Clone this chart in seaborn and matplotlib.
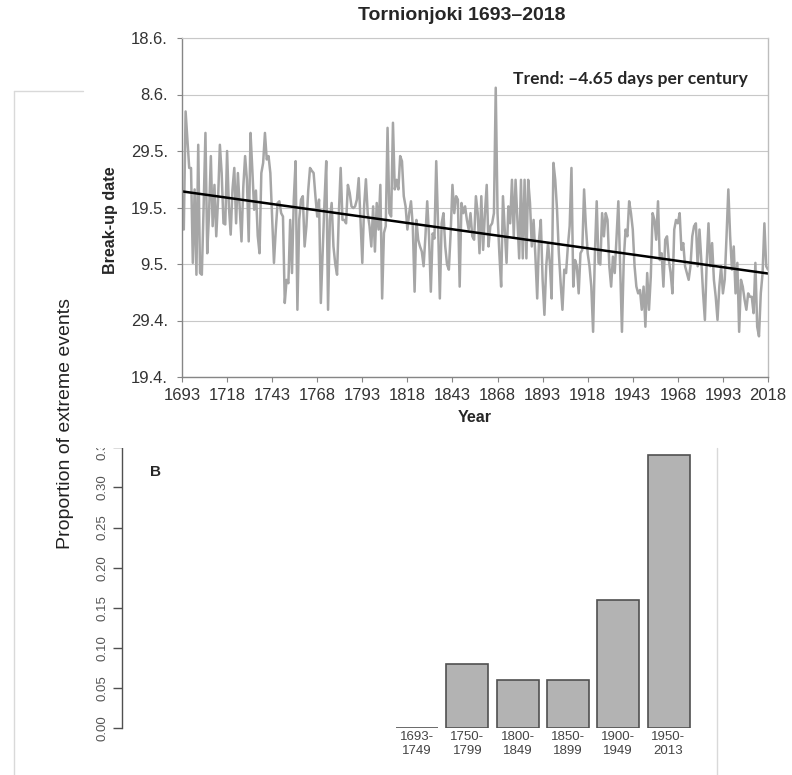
import numpy as np
import pandas as pd
import matplotlib
matplotlib.use("Agg")
import matplotlib.pyplot as plt
from matplotlib.patches import Rectangle
from matplotlib.lines import Line2D
import seaborn as sns

# ---------------- data ----------------
# Panel A: ice break-up date of the Tornionjoki, expressed as days after 19 April
YEARS = list(range(1693, 2019))
BREAKUP_DAYS = [
    # 1693-1736
    31.1, 26.1, 47.0, 42.0, 37.0, 37.0, 20.2, 33.2, 18.1, 41.1,
    18.4, 18.1, 30.2, 43.2, 21.9, 29.0, 39.1, 26.7, 34.0, 24.9,
    31.4, 41.1, 36.1, 27.2, 27.0, 40.0, 30.2, 25.2, 33.2, 37.0,
    27.2, 36.1, 30.2, 24.0, 33.7, 39.1, 34.9, 24.0, 43.2, 36.7,
    29.6, 33.0, 25.0, 21.9,
    # 1737-1794
    36.1, 37.9, 43.2, 38.5, 39.1, 36.1, 28.0, 20.2, 26.0, 30.8,
    31.1, 29.0, 28.4, 13.1, 17.2, 16.6, 27.8, 18.4, 31.4, 38.2,
    11.9, 27.8, 31.4, 32.0, 23.1, 26.7, 33.0, 37.0, 36.5, 36.1,
    32.0, 28.4, 31.4, 13.1, 22.0, 30.8, 38.2, 11.9, 27.8, 30.8,
    23.1, 20.0, 18.1, 29.0, 37.0, 27.8, 27.8, 27.2, 34.0, 32.6,
    30.2, 29.9, 30.2, 31.4, 35.2, 27.8, 20.2, 30.2,
    # 1795-1852
    35.0, 29.0, 26.7, 23.1, 30.2, 22.2, 30.8, 26.1, 34.0, 13.9,
    25.5, 26.7, 44.1, 29.0, 28.4, 45.0, 33.2, 34.9, 33.2, 39.1,
    38.2, 32.0, 30.2, 26.1, 29.0, 31.1, 26.7, 15.1, 27.8, 24.3,
    23.1, 22.2, 19.6, 24.9, 31.1, 24.9, 15.1, 25.4, 24.5, 38.2,
    27.2, 13.9, 27.2, 29.0, 23.1, 19.9, 19.0, 25.5, 34.0, 29.0,
    32.0, 31.4, 16.0, 30.8, 29.0, 30.2, 27.8, 26.1,
    # 1853-1911
    29.0, 24.9, 24.3, 32.0, 29.0, 21.9, 32.0, 22.5, 29.0, 34.0,
    23.1, 26.7, 27.2, 29.0, 51.2, 29.0, 21.9, 16.0, 32.0, 26.1,
    20.2, 30.2, 27.2, 34.9, 24.9, 34.9, 27.8, 21.0, 34.9, 21.0,
    34.9, 21.0, 34.9, 30.8, 23.1, 27.8, 21.3, 13.9, 24.3, 27.8,
    17.2, 11.0, 19.6, 23.7, 20.2, 13.9, 37.9, 34.9, 29.6, 21.9,
    16.6, 11.9, 19.0, 18.4, 23.1, 26.7, 37.0, 16.0, 20.7,
    # 1912-1969
    19.6, 14.8, 21.9, 22.5, 33.2, 26.7, 21.9, 19.6, 16.0, 8.0,
    21.9, 31.1, 20.2, 19.9, 29.0, 24.9, 29.0, 27.8, 19.6, 16.0,
    21.3, 18.4, 24.9, 31.1, 19.6, 8.0, 20.7, 26.1, 24.9, 31.1,
    29.0, 26.1, 19.6, 16.0, 14.8, 15.4, 11.9, 16.0, 8.9, 18.4,
    11.9, 17.8, 29.0, 27.8, 24.3, 31.1, 20.7, 21.9, 16.0, 24.3,
    24.9, 20.7, 18.4, 14.8, 26.1, 27.8, 27.2, 29.0,
    # 1970-2018
    22.5, 23.7, 19.6, 18.4, 17.2, 19.6, 24.9, 26.7, 27.2, 19.6,
    26.1, 20.7, 14.8, 10.1, 20.2, 27.2, 19.6, 23.7, 17.2, 14.2,
    10.1, 16.0, 19.6, 14.8, 17.2, 24.9, 33.2, 24.9, 19.0, 23.1,
    14.8, 20.2, 8.0, 17.2, 16.0, 13.7, 11.9, 14.8, 14.2, 14.2,
    11.3, 20.2, 8.9, 7.2, 14.8, 18.4, 27.2, 19.6, 19.0,
]
DATE_TICKS = [0, 10, 20, 30, 40, 50, 60]
DATE_TICK_LABELS = ["19.4.", "29.4.", "9.5.", "19.5.", "29.5.", "8.6.", "18.6."]
YEAR_TICKS = [1693, 1718, 1743, 1768, 1793, 1818, 1843, 1868, 1893, 1918, 1943, 1968, 1993, 2018]
TITLE = "Tornionjoki 1693\u20132018"
TREND_TEXT = "Trend: \u20134.65 days per century"

# Panel B: proportion of extreme events per period
PERIODS = ["1693-\n1749", "1750-\n1799", "1800-\n1849", "1850-\n1899", "1900-\n1949", "1950-\n2013"]
PROPORTIONS = [0.0, 0.08, 0.06, 0.06, 0.16, 0.34]
PROP_TICKS = [0.00, 0.05, 0.10, 0.15, 0.20, 0.25, 0.30, 0.35]
PROP_TICK_LABELS = ["0.00", "0.05", "0.10", "0.15", "0.20", "0.25", "0.30", "0.35"]

# ---------------- style ----------------
sns.set_style("white")
plt.rcParams["font.family"] = ["Liberation Sans", "DejaVu Sans"]

W, H = 792, 775
fig = plt.figure(figsize=(W / 100, H / 100), dpi=100)
fig.patch.set_facecolor("white")


def fx(px):
    return px / W


def fy(py):
    return 1 - py / H


# ---------------- panel B (bottom) ----------------
axb = fig.add_axes([fx(122), fy(728.3), fx(717) - fx(122), (728.3 - 447.3) / H])
axb.set_zorder(0)
df_b = pd.DataFrame({"period": PERIODS, "prop": PROPORTIONS})
sns.barplot(data=df_b, x="period", y="prop", color="#b3b3b3", saturation=1,
            edgecolor="#505050", linewidth=1.2, width=0.835, ax=axb)
axb.set_xlim(-5.865, 5.964)
axb.set_ylim(0, 0.35)
axb.set_yticks(PROP_TICKS)
axb.set_yticklabels(PROP_TICK_LABELS, rotation=90, va="center")
axb.set_xlabel("")
axb.set_ylabel("")
for s in ["top", "right", "bottom"]:
    axb.spines[s].set_visible(False)
axb.spines["left"].set_color("#505050")
axb.spines["left"].set_linewidth(1.0)
axb.tick_params(axis="y", direction="out", length=6.5, width=1.0, color="#505050",
                labelsize=9.5, labelcolor="#555555", pad=3, left=True)
axb.tick_params(axis="x", length=0, pad=2, labelsize=9.5, labelcolor="#444444")
axb.patch.set_alpha(0)

fig.text(fx(155.7), fy(472), "B", fontsize=11, fontweight="bold", ha="center", va="center")
fig.text(fx(65), fy(423.5), "Proportion of extreme events", rotation=90,
         fontsize=14, color="#222222", ha="center", va="center")

# light frame of panel B
frame_col = "#d9d9d9"
fig.add_artist(Line2D([fx(14), fx(14)], [fy(91), fy(775)], color=frame_col, lw=1.0))
fig.add_artist(Line2D([fx(14), fx(83)], [fy(91), fy(91)], color=frame_col, lw=1.0))
fig.add_artist(Line2D([fx(717), fx(717)], [fy(448), fy(775)], color=frame_col, lw=1.0))

# the top panel image sits over the upper part of panel B
fig.add_artist(Rectangle((fx(83), fy(448)), 1 - fx(83), 448 / H, transform=fig.transFigure,
                         facecolor="white", edgecolor="none", zorder=1))

# ---------------- panel A (top) ----------------
axt = fig.add_axes([fx(182), fy(377), fx(768) - fx(182), (377 - 38) / H])
axt.set_zorder(2)
axt.set_facecolor("white")

sns.lineplot(x=YEARS, y=BREAKUP_DAYS, color="#a6a6a6", linewidth=1.8, ax=axt)
coef = np.polyfit(YEARS, BREAKUP_DAYS, 1)
trend_x = [YEARS[0], YEARS[-1]]
trend_y = np.polyval(coef, trend_x)
sns.lineplot(x=trend_x, y=trend_y, color="black", linewidth=1.8, ax=axt)

axt.set_xlim(1693, 2018)
axt.set_ylim(0, 60)
axt.set_yticks(DATE_TICKS)
axt.set_yticklabels(DATE_TICK_LABELS)
axt.set_xticks(YEAR_TICKS)
axt.set_xticklabels([str(y) for y in YEAR_TICKS])
axt.set_xlabel("")
axt.set_ylabel("")
axt.yaxis.grid(True, color="#c8c8c8", linewidth=0.8)
axt.xaxis.grid(False)
axt.set_axisbelow(True)
axt.spines["left"].set_color("#868686")
axt.spines["bottom"].set_color("#868686")
axt.spines["left"].set_linewidth(1.0)
axt.spines["bottom"].set_linewidth(1.0)
axt.spines["top"].set_color("#c8c8c8")
axt.spines["top"].set_linewidth(0.8)
axt.spines["right"].set_color("#bdbdbd")
axt.spines["right"].set_linewidth(1.0)
axt.tick_params(axis="both", direction="out", length=3.6, width=0.8, color="#868686",
                labelsize=12, labelcolor="#333333", bottom=True, left=True)
axt.tick_params(axis="y", pad=6.5)
axt.tick_params(axis="x", pad=4)

fig.text(fx(461.5), fy(16), TITLE, fontsize=14, fontweight="bold", ha="center", va="center")
fig.text(fx(630), fy(79), TREND_TEXT, family=["Lato", "DejaVu Sans"], fontsize=12.6,
         fontweight="bold", ha="center", va="center")
fig.text(fx(111), fy(220), "Break-up date", rotation=90, fontsize=11.6, fontweight="bold",
         ha="center", va="center")
fig.text(fx(475), fy(418), "Year", fontsize=11.6, fontweight="bold", ha="center", va="center")

fig.savefig("out.png", dpi=100, facecolor="white")
